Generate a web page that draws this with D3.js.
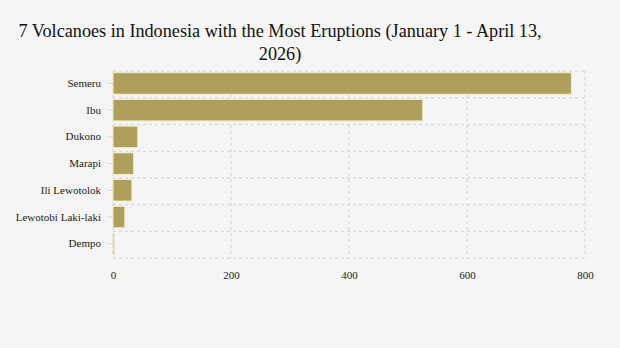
<!DOCTYPE html>
<html>
<head>
<meta charset="utf-8">
<script src="https://cdn.jsdelivr.net/npm/d3@7/dist/d3.min.js"></script>
<style>
  html, body { margin: 0; padding: 0; background: #f5f5f5; }
  svg { display: block; }
  text { font-family: "Liberation Serif", "Times New Roman", serif; }
</style>
</head>
<body>
<svg id="chart" width="620" height="348"></svg>
<script>
// Eruption counts per volcano, Jan 1 - Apr 13, 2026
const volcanoes = ["Semeru", "Ibu", "Dukono", "Marapi", "Ili Lewotolok", "Lewotobi Laki-laki", "Dempo"];
const eruptions = [777, 525, 42, 35, 32, 20, 2];
const xTicks = [0, 200, 400, 600, 800];
const titleLines = ["7 Volcanoes in Indonesia with the Most Eruptions (January 1 - April 13,", "2026)"];

const svg = d3.select("#chart");
const W = 620, H = 348;
const m = { top: 71, right: 35, bottom: 90, left: 113 };
const iw = W - m.left - m.right;
const ih = 187;

svg.append("rect").attr("width", W).attr("height", H).attr("fill", "#f5f5f5");

const title = svg.append("text")
  .attr("x", 280).attr("y", 37)
  .attr("text-anchor", "middle")
  .attr("font-size", 18.2)
  .attr("fill", "#111");
titleLines.forEach((t, i) => {
  title.append("tspan").attr("x", 280).attr("dy", i === 0 ? 0 : 23).text(t);
});

const g = svg.append("g").attr("transform", `translate(${m.left},${m.top})`);

const step = ih / volcanoes.length;
const x = d3.scaleLinear().domain([0, 800]).range([0, iw]);
// bars sit slightly above centre of each row
const y = d3.scaleBand().domain(volcanoes)
  .range([1.7, 1.7 + step * (volcanoes.length - 0.195)])
  .paddingInner(0.195).paddingOuter(0);

// dashed grid: vertical at ticks, horizontal at row boundaries
const gridColor = "#dcdcdc";
g.append("g").selectAll("line").data(xTicks).join("line")
  .attr("x1", d => x(d)).attr("x2", d => x(d))
  .attr("y1", 0).attr("y2", ih)
  .attr("stroke", gridColor).attr("stroke-width", 1.5).attr("stroke-dasharray", "3,3");

const bounds = d3.range(volcanoes.length + 1).map(k => k * step);
g.append("g").selectAll("line").data(bounds).join("line")
  .attr("x1", 0).attr("x2", iw)
  .attr("y1", d => d).attr("y2", d => d)
  .attr("stroke", gridColor).attr("stroke-width", 1.5).attr("stroke-dasharray", "3,3");

// bars
g.append("g").selectAll("rect").data(volcanoes).join("rect")
  .attr("x", x(0))
  .attr("y", d => y(d))
  .attr("width", (d, i) => x(eruptions[i]) - x(0))
  .attr("height", y.bandwidth())
  .attr("fill", "#ae9f5c")
  .attr("stroke", "#f3ecc9")
  .attr("stroke-width", 1);

// y axis
const yAxis = g.append("g")
  .call(d3.axisLeft(y).tickSize(5).tickPadding(7));
yAxis.select(".domain").remove();
yAxis.selectAll(".tick line").attr("stroke", "#d6d6d6");
yAxis.selectAll(".tick text").attr("font-size", 11).attr("fill", "#222")
  .attr("font-family", "'Liberation Serif', 'Times New Roman', serif");

// x axis
const xAxis = g.append("g")
  .attr("transform", `translate(0,${ih})`)
  .call(d3.axisBottom(x).tickValues(xTicks).tickSize(0).tickPadding(13).tickFormat(d3.format("d")));
xAxis.select(".domain").remove();
xAxis.selectAll(".tick text").attr("font-size", 11).attr("fill", "#222")
  .attr("font-family", "'Liberation Serif', 'Times New Roman', serif");
</script>
</body>
</html>
